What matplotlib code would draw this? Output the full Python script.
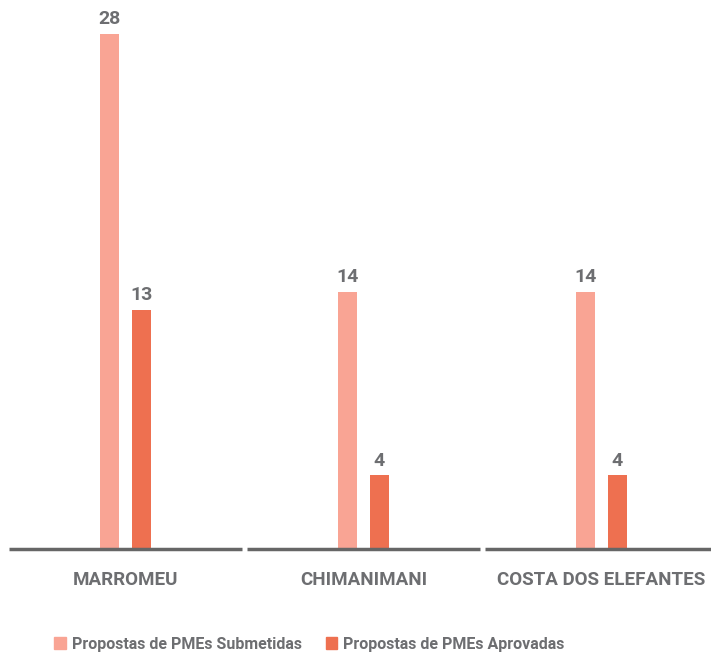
import matplotlib.pyplot as plt
from matplotlib.patches import Patch
import numpy as np

categories = ["MARROMEU", "CHIMANIMANI", "COSTA DOS ELEFANTES"]
submetidas = [28, 14, 14]
aprovadas = [13, 4, 4]
series_names = ["Propostas de PMEs Submetidas", "Propostas de PMEs Aprovadas"]

light = "#F9A494"
dark = "#EE7050"
text_gray = "#6D6E71"

plt.rcParams['font.family'] = ['Roboto', 'DejaVu Sans']

W, H = 711, 657
fig = plt.figure(figsize=(W / 100, H / 100), dpi=100)

# axes run a bit past the right edge so the last segment gets clipped
left_px, right_px, base_px = 6.5, 720.5, 549
ax = fig.add_axes([left_px / W, (H - base_px) / H, (right_px - left_px) / W, base_px / H])

x = np.arange(len(categories))
bw = 0.08
off = 0.067
b1 = ax.bar(x - off, submetidas, bw, color=light)
b2 = ax.bar(x + off, aprovadas, bw, color=dark)

for bars, vals in [(b1, submetidas), (b2, aprovadas)]:
    for rect, v in zip(bars, vals):
        ax.annotate(str(v), (rect.get_x() + rect.get_width() / 2, v),
                    xytext=(0, 4), textcoords="offset points",
                    ha="center", va="bottom", fontsize=14, fontweight="bold",
                    color=text_gray)

# baseline split into one segment per category
for xi in x:
    ax.plot([xi - 0.4895, xi + 0.4895], [0, 0], color="#666666", lw=2.5,
            solid_capstyle="butt", clip_on=False)
    ax.text(xi, -1.7, categories[xi], ha="center", va="center", fontsize=13.5,
            fontweight="bold", color=text_gray)

ax.set_xlim(-0.5, 2.5)
ax.set_ylim(0, base_px / (515 / 28))
ax.axis("off")

handles = [Patch(color=light), Patch(color=dark)]
fig.legend(handles, series_names, loc="center left", bbox_to_anchor=(46 / W, 13 / H),
           ncol=2, frameon=False, handlelength=0.75, handleheight=0.75,
           handletextpad=0.35, columnspacing=1.5, borderpad=0,
           prop={"size": 11.5, "weight": "bold"}, labelcolor=text_gray)

fig.savefig("out.png", dpi=100)
